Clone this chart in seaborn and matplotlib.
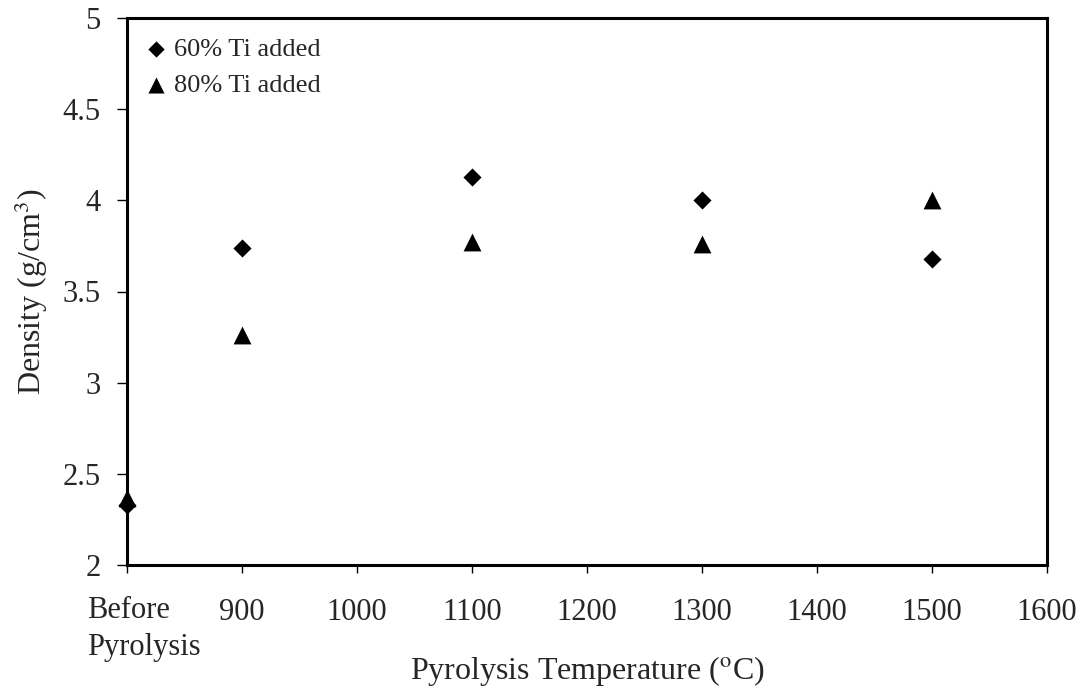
import matplotlib
matplotlib.use("Agg")
import matplotlib.pyplot as plt
import seaborn as sns
import pandas as pd

# Pyrolysis temperature (800 stands for the sample before pyrolysis)
temperature = [800, 900, 1100, 1300, 1500]
density_60ti = [2.33, 3.74, 4.13, 4.00, 3.68]
density_80ti = [2.37, 3.26, 3.77, 3.76, 4.00]

x_ticks = [800, 900, 1000, 1100, 1200, 1300, 1400, 1500, 1600]
x_tick_labels = ["", "900", "1000", "1100", "1200", "1300", "1400", "1500", "1600"]
first_x_label = "Before\nPyrolysis"
y_ticks = [2, 2.5, 3, 3.5, 4, 4.5, 5]
y_tick_labels = ["2", "2.5", "3", "3.5", "4", "4.5", "5"]

sns.set_theme(style="white")
plt.rcParams["font.family"] = ["Liberation Serif", "DejaVu Serif"]
plt.rcParams["mathtext.fontset"] = "stix"

df60 = pd.DataFrame({"T": temperature, "rho": density_60ti})
df80 = pd.DataFrame({"T": temperature, "rho": density_80ti})

fig = plt.figure(figsize=(10.88, 6.90), dpi=100)
ax = fig.add_axes([127 / 1088, 125 / 690, 920 / 1088, 547 / 690])

sns.scatterplot(data=df60, x="T", y="rho", marker="D", s=85, color="black",
                edgecolor="black", linewidth=0, label="60% Ti added", ax=ax,
                clip_on=False, zorder=5)
sns.scatterplot(data=df80, x="T", y="rho", marker="^", s=165, color="black",
                edgecolor="black", linewidth=0, label="80% Ti added", ax=ax,
                clip_on=False, zorder=4)

ax.set_xlim(800, 1600)
ax.set_ylim(2, 5)
ax.set_xticks(x_ticks)
ax.set_xticklabels(x_tick_labels, fontsize=22)
ax.set_yticks(y_ticks)
ax.set_yticklabels(y_tick_labels, fontsize=22)

# Two-line, left-aligned label under the first tick
ax.annotate(first_x_label, xy=(x_ticks[0], 0), xycoords=("data", "axes fraction"),
            xytext=(-29, -22), textcoords="offset points", ha="left", va="top",
            multialignment="left", fontsize=22, linespacing=1.4)

ax.tick_params(axis="x", direction="out", length=6, width=1, color="black",
               pad=18, bottom=True)
ax.tick_params(axis="y", direction="out", length=7, width=1, color="black",
               pad=12, left=True)
for side in ["left", "right", "top", "bottom"]:
    ax.spines[side].set_visible(True)
    ax.spines[side].set_color("black")
    ax.spines[side].set_linewidth(2.2)

ax.set_xlabel(r"Pyrolysis Temperature ($^{\mathrm{o}}$C)", fontsize=23, labelpad=19)
ax.set_ylabel(r"Density (g/cm$^{3}$)", fontsize=23, labelpad=9)

ax.legend(loc="upper left", bbox_to_anchor=(0.022, 0.965), frameon=False,
          fontsize=19, markerscale=0.9, handletextpad=0.3, handlelength=0.7,
          borderaxespad=0, borderpad=0, labelspacing=0.5)

fig.savefig("out.png", dpi=100)
